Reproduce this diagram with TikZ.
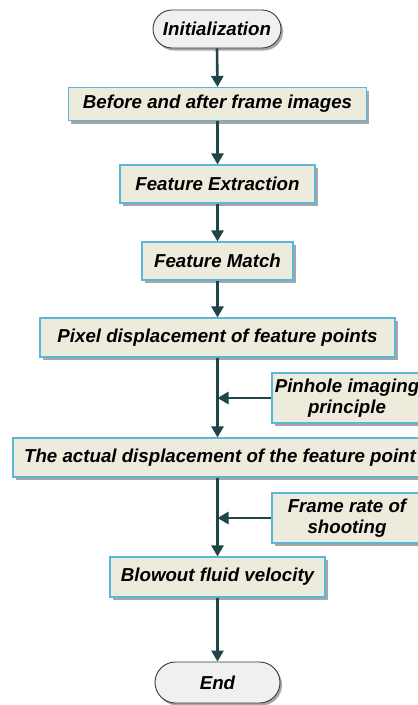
\documentclass[tikz,border=0pt]{standalone}
\usepackage{fontspec}
\setmainfont{Liberation Sans}
\usetikzlibrary{arrows.meta,shadows,shapes.misc}
\definecolor{boxfill}{HTML}{ECEBDC}
\definecolor{boxline}{HTML}{5BB6DB}
\definecolor{flowline}{HTML}{1E4547}
\definecolor{termfill}{HTML}{F0F0F0}
\definecolor{termline}{HTML}{3A3A3A}
\tikzset{
  procbox/.style={draw=boxline, line width=1.1pt, fill=boxfill, inner sep=0pt,
    align=center, font=\fontsize{18.7}{21.5}\selectfont\bfseries\itshape,
    drop shadow={shadow xshift=2.5pt, shadow yshift=-3pt, fill=black, opacity=0.35}},
  termbox/.style={draw=termline, line width=0.9pt, fill=termfill, rounded rectangle,
    inner sep=0pt, font=\fontsize{18.7}{21.5}\selectfont\bfseries\itshape,
    drop shadow={shadow xshift=2pt, shadow yshift=-2.5pt, fill=black, opacity=0.35}},
  flow/.style={draw=flowline, line width=2.6pt, -{Triangle[width=12pt,length=11pt]}}
}
\begin{document}
\begin{tikzpicture}[x=1pt, y=-1pt]
\clip (0,0) rectangle (418,705);
\fill[white] (0,0) rectangle (418,705);

\node[termbox, minimum width=128pt, minimum height=38pt] (init) at (217,29) {Initialization};
\node[procbox, minimum width=298pt, minimum height=33pt] (imgs) at (217.5,104) {Before and after frame images};
\node[procbox, minimum width=195pt, minimum height=38pt] (extr) at (217.5,184) {Feature Extraction};
\node[procbox, minimum width=151pt, minimum height=38pt] (match) at (217.5,261) {Feature Match};
\node[procbox, minimum width=355pt, minimum height=39pt] (pix) at (217.5,337.5) {Pixel displacement of feature points};
\node[procbox, minimum width=150pt, minimum height=50pt] (pin) at (347,398) {Pinhole imaging\\principle};
\node[procbox, minimum width=414pt, minimum height=39pt] (act) at (220,457.5) {The actual displacement of the feature point};
\node[procbox, minimum width=150pt, minimum height=50pt] (rate) at (347,518) {Frame rate of\\shooting};
\node[procbox, minimum width=215pt, minimum height=40pt] (vel) at (217.5,577) {Blowout fluid velocity};
\node[termbox, minimum width=125pt, minimum height=41pt] (end) at (217.5,682.5) {End};

\draw[flow] (init.south) -- (imgs.north);
\draw[flow] (imgs.south) -- (extr.north);
\draw[flow] (extr.south) -- (match.north);
\draw[flow] (match.south) -- (pix.north);
\draw[flow] (pix.south) -- (pix.south |- act.north);
\draw[flow] (pin.west) -- (pin.west -| pix.south);
\draw[flow] (act.south -| pix.south) -- (vel.north);
\draw[flow] (rate.west) -- (rate.west -| pix.south);
\draw[flow] (vel.south) -- (end.north);
\end{tikzpicture}
\end{document}
